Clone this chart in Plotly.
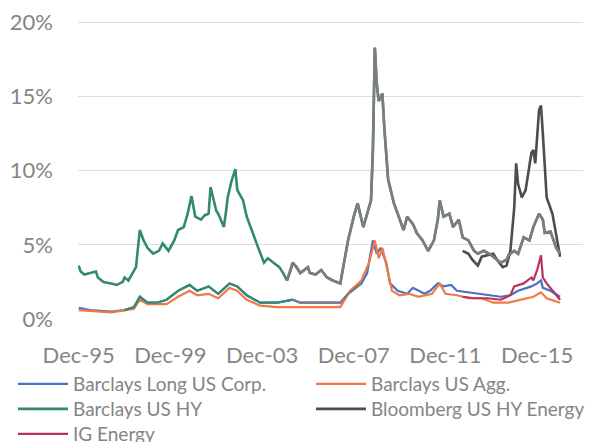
import plotly.graph_objects as go

# ---------------- data (spread, %) ----------------
hy_dates = ["1995-12","1996-01","1996-03","1996-06","1996-09","1996-10","1997-01","1997-05","1997-08","1997-11",
            "1997-12","1998-02","1998-04","1998-06","1998-08","1998-10","1998-12","1999-03","1999-06","1999-08",
            "1999-11","2000-02","2000-04","2000-07","2000-09","2000-11","2001-01","2001-04","2001-06","2001-08",
            "2001-09","2001-12","2002-01","2002-04","2002-05","2002-06","2002-08","2002-10","2002-11","2003-02",
            "2003-04","2003-07","2003-10","2004-01","2004-03","2004-06","2004-09","2004-11","2005-01","2005-03",
            "2005-04","2005-06","2005-08","2005-12","2006-01","2006-04","2006-07","2006-10","2007-01","2007-05",
            "2007-07","2007-09","2007-12","2008-02","2008-05","2008-07","2008-09","2008-10","2008-11","2008-12",
            "2009-01","2009-03","2009-04","2009-06","2009-09","2009-11","2010-02","2010-04","2010-07","2010-09",
            "2010-12","2011-03","2011-06","2011-08","2011-09","2011-11","2012-02","2012-04","2012-07","2012-09",
            "2012-12","2013-03","2013-05","2013-08","2013-11","2014-01","2014-05","2014-08","2014-09","2014-12",
            "2015-02","2015-05","2015-08","2015-10","2016-01","2016-03","2016-04","2016-07","2016-10","2016-12"]
hy_values = [3.6,3.2,3.0,3.1,3.2,2.8,2.5,2.4,2.3,2.5,
             2.8,2.6,3.0,3.5,6.0,5.3,4.8,4.4,4.6,5.1,
             4.6,5.3,6.0,6.2,7.1,8.3,6.9,6.7,7.0,7.1,
             8.9,7.3,7.1,6.2,7.1,8.2,9.3,10.1,8.7,8.0,
             6.9,5.8,4.8,3.8,4.1,3.8,3.5,3.1,2.6,3.3,
             3.8,3.5,3.1,3.5,3.1,3.0,3.3,2.8,2.6,2.4,
             3.8,5.3,6.9,7.8,6.2,7.1,8.0,11.4,18.3,15.9,
             14.7,15.2,12.9,9.4,7.8,7.1,6.0,6.9,6.4,5.8,
             5.3,4.6,5.3,6.7,8.0,6.9,7.1,6.2,6.7,5.5,
             5.3,4.6,4.4,4.6,4.4,4.2,3.8,4.0,4.3,4.6,
             4.4,5.5,5.3,6.2,7.1,6.7,5.8,5.9,4.8,4.4]

corp_dates = ["1995-12","1996-06","1997-05","1997-12","1998-05","1998-08","1998-12","1999-05","1999-10","2000-04",
              "2000-10","2001-02","2001-08","2002-01","2002-07","2002-11","2003-04","2003-11","2004-08","2005-04",
              "2005-08","2006-07","2007-05","2007-09","2008-04","2008-07","2008-10","2008-12","2009-02","2009-05",
              "2009-07","2009-11","2010-04","2010-07","2011-01","2011-04","2011-08","2011-11","2012-03","2012-06",
              "2012-12","2013-05","2013-10","2014-05","2014-10","2015-02","2015-09","2015-12","2016-02","2016-03",
              "2016-07","2016-12"]
corp_values = [0.75,0.6,0.5,0.6,0.8,1.5,1.1,1.1,1.3,1.9,
               2.3,1.9,2.2,1.7,2.4,2.2,1.6,1.1,1.1,1.3,
               1.1,1.1,1.1,1.7,2.4,3.1,5.3,4.4,4.8,3.8,
               2.4,1.9,1.7,2.1,1.7,1.9,2.4,2.2,2.3,1.9,
               1.8,1.7,1.6,1.5,1.6,1.9,2.2,2.4,2.6,2.1,
               1.9,1.5]

agg_dates = ["1995-12","1997-05","1998-05","1998-08","1998-12","1999-10","2000-04","2000-10","2001-02","2001-08",
             "2002-01","2002-07","2002-11","2003-04","2003-11","2004-08","2005-08","2007-05","2007-10","2008-04",
             "2008-08","2008-11","2009-01","2009-03","2009-06","2009-08","2009-12","2010-05","2010-10","2011-05",
             "2011-09","2011-12","2012-06","2012-12","2013-07","2014-01","2014-09","2015-03","2015-10","2016-02",
             "2016-05","2016-12"]
agg_values = [0.6,0.45,0.7,1.3,1.0,1.0,1.5,1.9,1.6,1.7,
              1.4,2.1,1.9,1.3,0.9,0.8,0.8,0.8,1.9,2.6,
              3.8,5.3,4.1,4.8,3.1,1.9,1.6,1.7,1.5,1.7,
              2.4,1.7,1.6,1.4,1.4,1.1,1.1,1.3,1.5,1.8,
              1.4,1.1]

energy_dates = ["2012-09","2012-12","2013-02","2013-05","2013-07","2013-10","2014-01","2014-03","2014-06","2014-08",
                "2014-10","2014-12","2015-01","2015-02","2015-04","2015-06","2015-09","2015-10","2015-11","2016-01",
                "2016-02","2016-03","2016-05","2016-08","2016-10","2016-12"]
energy_values = [4.6,4.4,4.0,3.6,4.2,4.3,4.4,4.0,3.5,3.6,
                 4.6,7.5,10.5,9.1,8.2,8.7,11.2,11.4,10.5,14.1,
                 14.4,12.5,8.2,7.1,5.5,4.2]

ig_energy_dates = ["2012-09","2013-03","2013-10","2014-05","2014-10","2014-12","2015-05","2015-09","2015-10","2015-12",
                   "2016-02","2016-03","2016-05","2016-08","2016-12"]
ig_energy_values = [1.5,1.4,1.4,1.3,1.6,2.2,2.4,2.8,2.6,3.3,
                    4.3,2.8,2.4,1.9,1.3]

tick_vals = ["1995-12-01","1999-12-01","2003-12-01","2007-12-01","2011-12-01","2015-12-01"]
tick_text = ["Dec-95","Dec-99","Dec-03","Dec-07","Dec-11","Dec-15"]
y_ticks = [0, 5, 10, 15, 20]
y_text = ["0%", "5%", "10%", "15%", "20%"]
grid_vals = [5, 10, 15, 20]

FONT = "Lato"
TXT = "#858585"
W, H = 591, 434   # page body has an 8px margin

fig = go.Figure()
fig.add_trace(go.Scatter(x=corp_dates, y=corp_values, mode="lines", name="Barclays Long US Corp.",
                         line=dict(color="#4a6fc4", width=2.2), legend="legend"))
fig.add_trace(go.Scatter(x=agg_dates, y=agg_values, mode="lines", name="Barclays US Agg.",
                         line=dict(color="#f07a45", width=2.2), legend="legend2"))
fig.add_trace(go.Scatter(x=hy_dates, y=hy_values, mode="lines", name="Barclays US HY",
                         line=dict(color="#338a70", width=2.6), legend="legend3"))
fig.add_trace(go.Scatter(x=energy_dates, y=energy_values, mode="lines", name="Bloomberg US HY Energy",
                         line=dict(color="#4d4d4d", width=2.6), legend="legend4"))
fig.add_trace(go.Scatter(x=ig_energy_dates, y=ig_energy_values, mode="lines", name="IG Energy",
                         line=dict(color="#b8325a", width=2.2), legend="legend5"))

# colour shifts visible in the reference (same data, different segment colours)
i0 = hy_dates.index("2005-01")
fig.add_trace(go.Scatter(x=hy_dates[i0:], y=hy_values[i0:], mode="lines", showlegend=False,
                         line=dict(color="#7d7d7d", width=2.6), hoverinfo="skip"))
c0, c1, c2 = corp_dates.index("1997-12"), corp_dates.index("2005-04"), corp_dates.index("2008-04")
fig.add_trace(go.Scatter(x=corp_dates[c0:c1 + 1], y=corp_values[c0:c1 + 1], mode="lines", showlegend=False,
                         line=dict(color="#338a70", width=2.2), hoverinfo="skip"))
fig.add_trace(go.Scatter(x=corp_dates[c1:c2 + 1], y=corp_values[c1:c2 + 1], mode="lines", showlegend=False,
                         line=dict(color="#7d7d7d", width=2.2), hoverinfo="skip"))
# gridlines (no line at 0%)
fig.add_trace(go.Scatter(x=[None], y=[None], yaxis="y2", showlegend=False, hoverinfo="skip"))

legend_common = dict(orientation="v", xref="container", yref="container", yanchor="top", xanchor="left",
                     itemwidth=50, font=dict(family=FONT, size=19, color=TXT),
                     bgcolor="rgba(0,0,0,0)")
col_x = [5, 303]
row_top = [357, 382, 407]

Y_RANGE = [0, 20.3]
fig.update_layout(
    width=W, height=H,
    margin=dict(l=70, r=16, t=9.5, b=123, autoexpand=False),
    paper_bgcolor="white", plot_bgcolor="white",
    font=dict(family=FONT, size=22, color=TXT),
    xaxis=dict(type="date", range=["1995-11-20", "2017-12-01"], tickvals=tick_vals, ticktext=tick_text,
               showgrid=False, zeroline=False, showline=False, ticks="", ticklabelstandoff=21,
               ticklabeloverflow="allow", tickfont=dict(family=FONT, size=22, color=TXT)),
    yaxis=dict(range=Y_RANGE, tickvals=y_ticks, ticktext=y_text, showgrid=False, zeroline=False,
               showline=False, ticks="", ticklabelstandoff=24, ticklabeloverflow="allow",
               tickfont=dict(family=FONT, size=22, color=TXT)),
    yaxis2=dict(range=Y_RANGE, overlaying="y", tickvals=grid_vals, showticklabels=False,
                showgrid=True, gridcolor="#dcdcdc", gridwidth=1, zeroline=False, showline=False),
    legend=dict(x=col_x[0] / W, y=(H - row_top[0]) / H, **legend_common),
    legend2=dict(x=col_x[1] / W, y=(H - row_top[0]) / H, **legend_common),
    legend3=dict(x=col_x[0] / W, y=(H - row_top[1]) / H, **legend_common),
    legend4=dict(x=col_x[1] / W, y=(H - row_top[1]) / H, **legend_common),
    legend5=dict(x=col_x[0] / W, y=(H - row_top[2]) / H, **legend_common),
    showlegend=True,
)

fig.write_html("out.html")
